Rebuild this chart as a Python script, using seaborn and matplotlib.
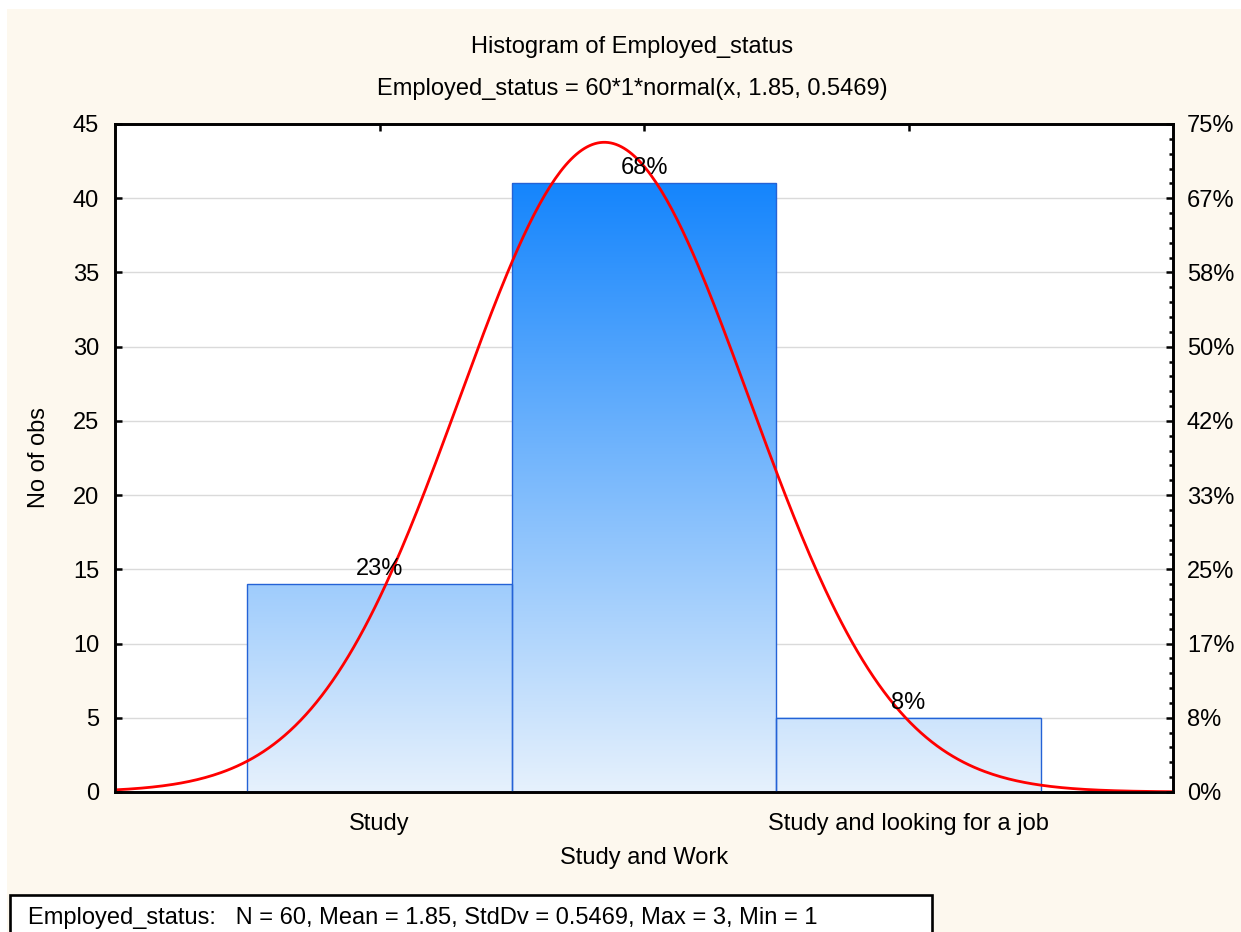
import numpy as np
import matplotlib
matplotlib.use("Agg")
import matplotlib.pyplot as plt
from matplotlib.colors import LinearSegmentedColormap
from matplotlib.patches import Rectangle
from matplotlib.ticker import MultipleLocator, FixedLocator
import seaborn as sns

# ---- data ----
codes = [1, 2, 3]
tick_labels = ["Study", "", "Study and looking for a job"]
counts = [14, 41, 5]
pct_labels = ["23%", "68%", "8%"]
y_ticks = [0, 5, 10, 15, 20, 25, 30, 35, 40, 45]
right_tick_labels = ["0%", "8%", "17%", "25%", "33%", "42%", "50%", "58%", "67%", "75%"]
n_obs = 60
mean_val = 1.85
sd_val = 0.5469
title = "Histogram of Employed_status"
subtitle = "Employed_status = 60*1*normal(x, 1.85, 0.5469)"
stats_text = "Employed_status:   N = 60, Mean = 1.85, StdDv = 0.5469, Max = 3, Min = 1"

sns.set_style("white")
plt.rcParams['font.family'] = ['Liberation Sans', 'DejaVu Sans']
plt.rcParams['text.color'] = 'black'
plt.rcParams['axes.labelcolor'] = 'black'
plt.rcParams['xtick.color'] = 'black'
plt.rcParams['ytick.color'] = 'black'

FS = 17
W, H = 1241, 932
fig = plt.figure(figsize=(W / 100, H / 100), dpi=100, facecolor="white")
# cream background panel
fig.patches.append(Rectangle((7 / W, 0), 1, 1 - 9 / H, transform=fig.transFigure,
                             facecolor="#FDF8EE", edgecolor="none", zorder=-10))

ax = fig.add_axes([115 / W, 1 - 792 / H, (1173 - 115) / W, (792 - 124) / H])
ax.set_facecolor("white")

sns.barplot(x=codes, y=counts, native_scale=True, width=1, errorbar=None,
            color="#8EC3FA", ax=ax, zorder=2)

cmap = LinearSegmentedColormap.from_list("bl", ["#E6F1FD", "#1585FC"])
top = max(counts)
for p in ax.patches:
    x0, w, h = p.get_x(), p.get_width(), p.get_height()
    grad = np.linspace(0, h / top, 256).reshape(-1, 1)
    ax.imshow(grad, extent=[x0, x0 + w, 0, h], origin="lower", aspect="auto",
              cmap=cmap, vmin=0, vmax=1, zorder=2.5, interpolation="bilinear")
    p.set_facecolor("none")
    p.set_edgecolor("#2462D6")
    p.set_linewidth(1.0)
    p.set_zorder(3)

# fitted normal curve (from the parameters in the subtitle)
xs = np.linspace(0, 4, 400)
ys = n_obs * 1 * np.exp(-0.5 * ((xs - mean_val) / sd_val) ** 2) / (sd_val * np.sqrt(2 * np.pi))
sns.lineplot(x=xs, y=ys, color="#FF0000", linewidth=2.0, ax=ax, zorder=4)

for xc, c, lab in zip(codes, counts, pct_labels):
    ax.annotate(lab, (xc, c), xytext=(0, 3), textcoords="offset points",
                ha="center", va="bottom", fontsize=FS, color="black", zorder=5)

ax.set_xlim(0, 4)
ax.set_ylim(0, 45)
ax.set_xticks(codes)
ax.set_xticklabels(tick_labels)
ax.set_yticks(y_ticks)
ax.yaxis.grid(True, color="#DADADA", linewidth=1.0, zorder=0)
ax.set_axisbelow(True)
ax.tick_params(axis="both", direction="in", length=5, width=1.8, color="black",
               labelsize=FS, labelcolor="black")
ax.tick_params(axis="y", pad=11.5)
ax.tick_params(axis="x", pad=15, top=True)
for s in ax.spines.values():
    s.set_visible(True)
    s.set_color("black")
    s.set_linewidth(1.9)

ax.set_xlabel("Study and Work", fontsize=FS)
ax.xaxis.set_label_coords(0.5, -0.083)
ax.set_ylabel("No of obs", fontsize=FS)
ax.yaxis.set_label_coords(-0.061, 0.5)

ax2 = ax.twinx()
ax2.set_ylim(0, 45)
ax2.yaxis.set_major_locator(FixedLocator(y_ticks))
ax2.set_yticklabels(right_tick_labels)
ax2.yaxis.set_minor_locator(MultipleLocator(1))
ax2.tick_params(axis="y", which="major", direction="in", length=5, width=1.8,
                labelsize=FS, pad=10, colors="black")
ax2.tick_params(axis="y", which="minor", direction="in", length=3, width=1.8, color="black")
ax2.grid(False)
for s in ax2.spines.values():
    s.set_visible(True)
    s.set_color("black")
    s.set_linewidth(1.9)

fig.text(632 / W, 1 - 47 / H, title, ha="center", va="center", fontsize=FS)
fig.text(632 / W, 1 - 89 / H, subtitle, ha="center", va="center", fontsize=FS)

fig.patches.append(Rectangle((10 / W, -0.05), (932 - 10) / W, 0.05 + (932 - 895) / H,
                             transform=fig.transFigure, facecolor="white",
                             edgecolor="black", linewidth=1.9, zorder=5))
fig.text(28 / W, 1 - 918 / H, stats_text, ha="left", va="center", fontsize=FS, zorder=6)

fig.savefig("out.png", dpi=100, facecolor=fig.get_facecolor())
